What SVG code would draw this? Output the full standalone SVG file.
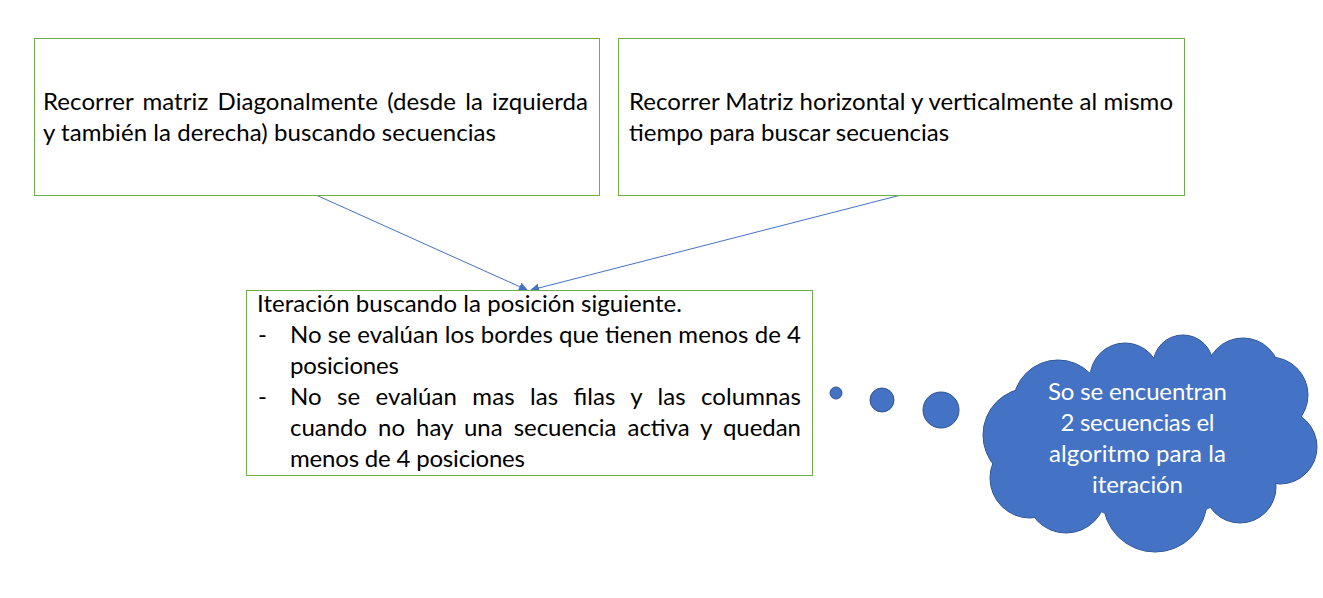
<svg xmlns="http://www.w3.org/2000/svg" width="1323" height="598" viewBox="0 0 1323 598">
<style>
.box{fill:#FFFFFF;stroke:#70AD47;stroke-width:1}
.t{font-family:Lato,"Liberation Sans",sans-serif;font-size:24px;fill:#000000}
.w{font-family:Lato,"Liberation Sans",sans-serif;font-size:24px;fill:#FFFFFF;text-anchor:middle}
.conn{stroke:#4472C4;stroke-width:1;fill:none}
.cl{fill:#4472C4;stroke:#2F528F;stroke-width:1}
.cf{fill:#4472C4;stroke:none}
</style>
<defs>
<marker id="ah" viewBox="0 0 10 10" refX="9" refY="5" markerWidth="9" markerHeight="9" markerUnits="userSpaceOnUse" orient="auto">
<path d="M0,0 L10,5 L0,10 Z" fill="#4472C4"/>
</marker>
</defs>
<rect width="1323" height="598" fill="#FFFFFF"/>
<g id="connectors">
<line class="conn" x1="316" y1="195" x2="527" y2="290" marker-end="url(#ah)"/>
<line class="conn" x1="901" y1="195" x2="531" y2="290" marker-end="url(#ah)"/>
</g>
<g id="node-diagonal">
<rect class="box" x="34.5" y="38.5" width="565" height="157"/>
<text class="t" x="43" y="110" word-spacing="3" textLength="545" lengthAdjust="spacing">Recorrer matriz Diagonalmente (desde la izquierda</text>
<text class="t" x="43" y="141" textLength="453" lengthAdjust="spacing">y también la derecha) buscando secuencias</text>
</g>
<g id="node-horizontal">
<rect class="box" x="618.5" y="38.5" width="566" height="157"/>
<text class="t" x="629" y="110" textLength="544" lengthAdjust="spacing">Recorrer Matriz horizontal y verticalmente al mismo</text>
<text class="t" x="629" y="141" textLength="320" lengthAdjust="spacing">tiempo para buscar secuencias</text>
</g>
<g id="node-iteracion">
<rect class="box" x="246.5" y="290.5" width="566" height="185"/>
<text class="t" x="257" y="312" textLength="425" lengthAdjust="spacing">Iteración buscando la posición siguiente.</text>
<text class="t" x="258" y="343">-</text>
<text class="t" x="290" y="343" textLength="511" lengthAdjust="spacing">No se evalúan los bordes que tienen menos de 4</text>
<text class="t" x="290" y="374" textLength="109" lengthAdjust="spacing">posiciones</text>
<text class="t" x="258" y="405">-</text>
<text class="t" x="290" y="405" word-spacing="9" textLength="511" lengthAdjust="spacing">No se evalúan mas las filas y las columnas</text>
<text class="t" x="290" y="436" word-spacing="5" textLength="511" lengthAdjust="spacing">cuando no hay una secuencia activa y quedan</text>
<text class="t" x="290" y="467" textLength="235" lengthAdjust="spacing">menos de 4 posiciones</text>
</g>
<g id="node-cloud">
<circle class="cl" cx="836" cy="393" r="6"/>
<circle class="cl" cx="882" cy="400" r="12"/>
<circle class="cl" cx="941" cy="410" r="18"/>
<g>
<circle class="cl" cx="1058" cy="405" r="45"/>
<circle class="cl" cx="1125" cy="378" r="35"/>
<circle class="cl" cx="1183" cy="365" r="30"/>
<circle class="cl" cx="1243" cy="375" r="37"/>
<circle class="cl" cx="1270" cy="395" r="38"/>
<circle class="cl" cx="1280" cy="447" r="37"/>
<circle class="cl" cx="1240" cy="487" r="36"/>
<circle class="cl" cx="1155" cy="500" r="52"/>
<circle class="cl" cx="1066" cy="493" r="40"/>
<circle class="cl" cx="1030" cy="478" r="40"/>
<circle class="cl" cx="1030" cy="435" r="47"/>
</g>
<g>
<circle class="cf" cx="1058" cy="405" r="44.5"/>
<circle class="cf" cx="1125" cy="378" r="34.5"/>
<circle class="cf" cx="1183" cy="365" r="29.5"/>
<circle class="cf" cx="1243" cy="375" r="36.5"/>
<circle class="cf" cx="1270" cy="395" r="37.5"/>
<circle class="cf" cx="1280" cy="447" r="36.5"/>
<circle class="cf" cx="1240" cy="487" r="35.5"/>
<circle class="cf" cx="1155" cy="500" r="51.5"/>
<circle class="cf" cx="1066" cy="493" r="39.5"/>
<circle class="cf" cx="1030" cy="478" r="39.5"/>
<circle class="cf" cx="1030" cy="435" r="46.5"/>
<ellipse class="cf" cx="1150" cy="440" rx="115" ry="80"/>
</g>
<text class="w" x="1137.5" y="400" textLength="179" lengthAdjust="spacing">So se encuentran</text>
<text class="w" x="1137.5" y="431" textLength="154" lengthAdjust="spacing">2 secuencias el</text>
<text class="w" x="1137.5" y="462" textLength="177" lengthAdjust="spacing">algoritmo para la</text>
<text class="w" x="1137.5" y="493" textLength="91" lengthAdjust="spacing">iteración</text>
</g>
</svg>
